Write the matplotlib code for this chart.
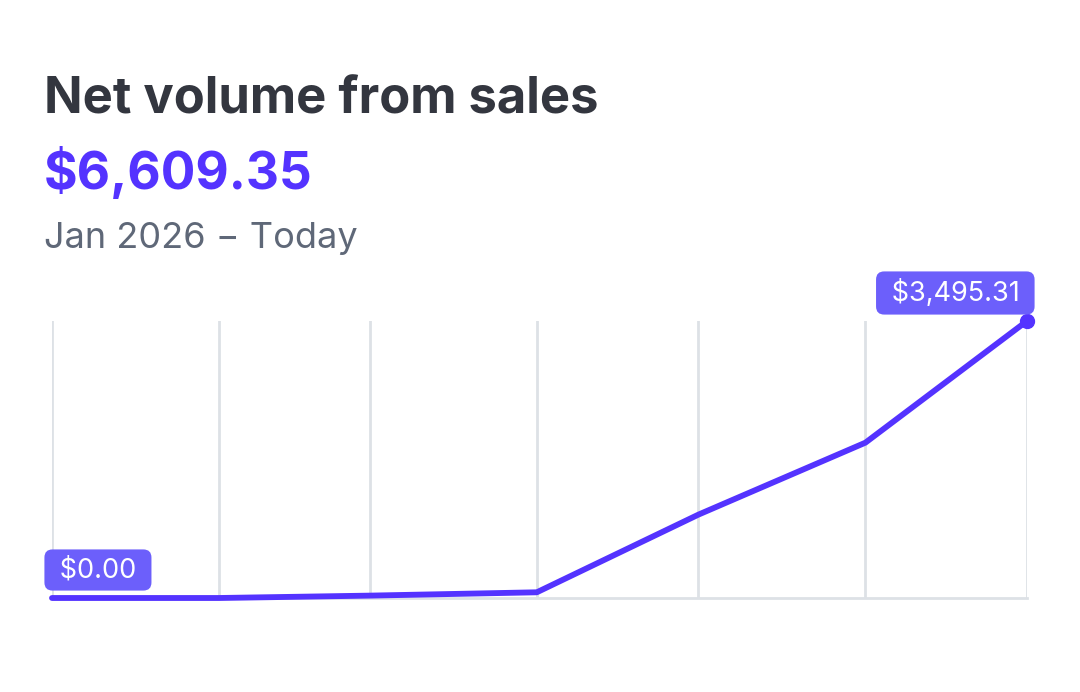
import matplotlib.pyplot as plt
from datetime import datetime

# monthly net volume (x = month start)
months = [datetime(2026, m, 1) for m in range(1, 8)]
volume = [0.0, 0.0, 30.0, 72.0, 1052.0, 1960.04, 3495.31]

title = 'Net volume from sales'
total = '$6,609.35'
period = 'Jan 2026 \u2212 Today'

purple = '#5433ff'
badge = '#6c5ffb'
dark = '#33363f'
gray = '#5f6878'
grid = '#dde1e6'

plt.rcParams['font.family'] = ['Inter', 'DejaVu Sans']

fig = plt.figure(figsize=(10.8, 6.92), dpi=100)
fig.patch.set_facecolor('white')

fig.text(44/1080, 1 - 113/692, title, fontsize=36.5, fontweight='bold', color=dark, va='baseline')
fig.text(44/1080, 1 - 189/692, total, fontsize=37, fontweight='bold', color=purple, va='baseline')
fig.text(44/1080, 1 - 248/692, period, fontsize=26, color=gray, va='baseline')

ax = fig.add_axes([52/1080, 1 - 598/692, 975/1080, 277/692])
ax.plot(months, volume, color=purple, lw=4.2, solid_capstyle='round', solid_joinstyle='round',
        clip_on=False, zorder=3)
ax.plot(months[-1], volume[-1], 'o', color=purple, ms=10, clip_on=False, zorder=4)

ax.set_xlim(months[0], months[-1])
ax.set_ylim(0, volume[-1])
ax.set_xticks(months)
ax.set_yticks([])
ax.grid(axis='x', color=grid, lw=2)
ax.tick_params(length=0, labelbottom=False)
for s in ['top', 'left', 'right']:
    ax.spines[s].set_visible(False)
ax.spines['bottom'].set_color(grid)
ax.spines['bottom'].set_linewidth(2)


def value_badge(x, y, text, ha, dx, dy):
    ax.annotate(' ' + text + ' ', (x, y), xytext=(dx, dy), textcoords='offset pixels',
                ha=ha, va='center', fontsize=19.5, color='white', zorder=5,
                bbox=dict(boxstyle='round,pad=0.28,rounding_size=0.3',
                          fc=badge, ec='none'))


value_badge(months[0], volume[0], '$0.00', 'left', 0, 28)
value_badge(months[-1], volume[-1], '$3,495.31', 'right', 0, 28)

fig.savefig('out.png', dpi=100)
